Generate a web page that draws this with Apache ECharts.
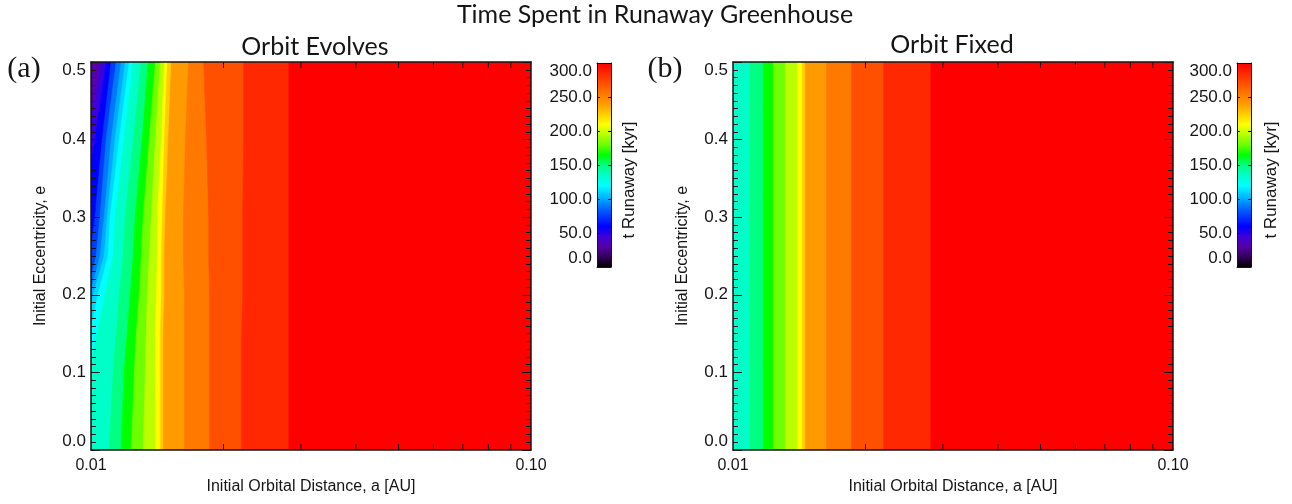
<!DOCTYPE html>
<html>
<head>
<meta charset="utf-8">
<title>Time Spent in Runaway Greenhouse</title>
<script src="https://cdn.jsdelivr.net/npm/echarts@6/dist/echarts.min.js"></script>
<style>
  html, body { margin: 0; padding: 0; background: #ffffff; }
  #chart { width: 1292px; height: 504px; }
</style>
</head>
<body>
<div id="chart"></div>
<script>
// ---- Data -------------------------------------------------------------
// Filled-contour band values of t_runaway [kyr]; band k starts where t reaches bandLevels[k]
const bandLevels = [30, 45, 60, 75, 90, 100, 110, 120, 135, 150, 165, 180, 195, 210, 225, 240, 255, 270, 285, 300];
// Eccentricity rows at which the contour positions are tabulated
const eccNodes = [0.0, 0.1, 0.15, 0.2, 0.25, 0.3, 0.4, 0.5];
// Orbit evolves: semi-major axis [AU] where t_runaway reaches bandLevels[1..] at each eccentricity
const edgesE000 = [0.00790, 0.00819, 0.00872, 0.00881, 0.00886, 0.00891, 0.00900, 0.00924, 0.01099, 0.01171, 0.01234, 0.01314, 0.01400, 0.01437, 0.01460, 0.01631, 0.01860, 0.02200, 0.02816];
const edgesE010 = [0.00832, 0.00863, 0.00919, 0.00929, 0.00934, 0.00939, 0.00959, 0.00990, 0.01123, 0.01189, 0.01254, 0.01328, 0.01400, 0.01437, 0.01460, 0.01631, 0.01860, 0.02200, 0.02816];
const edgesE015 = [0.00854, 0.00886, 0.00939, 0.00954, 0.00964, 0.00974, 0.00995, 0.01032, 0.01140, 0.01208, 0.01267, 0.01335, 0.01400, 0.01437, 0.01460, 0.01631, 0.01860, 0.02200, 0.02816];
const edgesE020 = [0.00877, 0.00910, 0.00959, 0.00979, 0.00995, 0.01011, 0.01037, 0.01076, 0.01159, 0.01228, 0.01287, 0.01342, 0.01407, 0.01445, 0.01468, 0.01631, 0.01860, 0.02212, 0.02816];
const edgesE025 = [0.00910, 0.00939, 0.00995, 0.01027, 0.01048, 0.01071, 0.01093, 0.01123, 0.01183, 0.01247, 0.01301, 0.01356, 0.01415, 0.01445, 0.01468, 0.01622, 0.01851, 0.02212, 0.02816];
const edgesE030 = [0.00934, 0.00959, 0.01021, 0.01048, 0.01071, 0.01088, 0.01105, 0.01134, 0.01196, 0.01260, 0.01314, 0.01371, 0.01415, 0.01452, 0.01476, 0.01622, 0.01851, 0.02212, 0.02816];
const edgesE040 = [0.00984, 0.01021, 0.01060, 0.01082, 0.01111, 0.01134, 0.01159, 0.01189, 0.01247, 0.01307, 0.01356, 0.01400, 0.01445, 0.01468, 0.01499, 0.01639, 0.01831, 0.02223, 0.02816];
const edgesE050 = [0.01054, 0.01082, 0.01111, 0.01140, 0.01171, 0.01196, 0.01221, 0.01247, 0.01301, 0.01349, 0.01400, 0.01437, 0.01468, 0.01491, 0.01523, 0.01666, 0.01803, 0.02223, 0.02816];
// Orbit fixed: t_runaway does not depend on e
const fixedLevels = [135, 150, 165, 180, 195, 210, 225, 240, 255, 270, 285, 300];
const fixedEdges = [0.01093, 0.01171, 0.01234, 0.01314, 0.01400, 0.01437, 0.01460, 0.01631, 0.01860, 0.02200, 0.02816];

// Axis ranges and tick values
const aRange = [0.01, 0.1];
const eRange = [0.0, 0.5];
const tRange = [0, 300];
const aMinorTicks = [0.02, 0.03, 0.04, 0.05, 0.06, 0.07, 0.08, 0.09];
const eTickStep = 0.1;
const tTickStep = 50;

// ---- Colour table (IDL-style rainbow) ----------------------------------
const rainbow = [
  [0, '#000000'], [15, '#32005a'], [30, '#5500a8'], [45, '#3c00dc'], [60, '#0000ff'],
  [75, '#003cff'], [90, '#0078ff'], [100, '#00aaff'], [110, '#00d7ff'], [120, '#00ffff'],
  [135, '#00ffc8'], [150, '#00ff82'], [165, '#00ff00'], [180, '#6eff00'], [195, '#b9ff00'],
  [210, '#ffff00'], [225, '#ffcd00'], [240, '#ff9b00'], [255, '#ff7800'], [270, '#ff5000'],
  [285, '#ff2800'], [300, '#ff0000']
];
function hexToRgb(h) {
  return [parseInt(h.slice(1, 3), 16), parseInt(h.slice(3, 5), 16), parseInt(h.slice(5, 7), 16)];
}
function colorAt(v) {
  if (v <= rainbow[0][0]) return rainbow[0][1];
  for (let i = 1; i < rainbow.length; i++) {
    if (v <= rainbow[i][0]) {
      const [v0, c0] = rainbow[i - 1];
      const [v1, c1] = rainbow[i];
      const f = (v - v0) / (v1 - v0);
      const a = hexToRgb(c0), b = hexToRgb(c1);
      const m = a.map((x, j) => Math.round(x + (b[j] - x) * f));
      return 'rgb(' + m.join(',') + ')';
    }
  }
  return rainbow[rainbow.length - 1][1];
}

// ---- Styling -----------------------------------------------------------
const SANS = '"Liberation Sans", Arimo, Helvetica, Arial, sans-serif';
const TITLE_FONT = 'Lato, "Open Sans", sans-serif';
const SERIF = '"Liberation Serif", "DejaVu Serif", serif';
const INK = '#151515';
const frameLine = { show: true, onZero: false, lineStyle: { color: INK, width: 1.5 } };
const TICK_LEN = 6;

const plotGrids = [
  { left: 91, top: 62, width: 440, height: 388 },
  { left: 733, top: 62, width: 440, height: 388 }
];
const barGrids = [
  { left: 597, top: 63, width: 14, height: 204 },
  { left: 1237, top: 63, width: 14, height: 204 }
];

const grids = [plotGrids[0], barGrids[0], plotGrids[1], barGrids[1]];
const xAxes = [];
const yAxes = [];

function addPlotAxes(gridIndex) {
  ['bottom', 'top'].forEach(pos => {
    const main = pos === 'bottom';
    xAxes.push({
      type: 'log', logBase: 10, gridIndex, position: pos, min: aRange[0], max: aRange[1], z: 5,
      axisLine: frameLine, splitLine: { show: false },
      axisTick: { show: false },
      axisLabel: main ? { show: true, formatter: v => v.toFixed(2), fontSize: 16, fontFamily: SANS, color: INK, margin: 8 } : { show: false },
      name: main ? 'Initial Orbital Distance, a [AU]' : '',
      nameLocation: 'middle', nameGap: 29,
      nameTextStyle: { fontSize: 16, fontFamily: SANS, color: INK }
    });
  });
  ['left', 'right'].forEach(pos => {
    const main = pos === 'left';
    yAxes.push({
      type: 'value', gridIndex, position: pos, min: eRange[0], max: eRange[1], interval: eTickStep, z: 5,
      axisLine: frameLine, splitLine: { show: false },
      axisTick: { show: true, inside: true, length: 9, lineStyle: { color: INK, width: 1 } },
      minorTick: { show: true, splitNumber: 10, length: 5, lineStyle: { color: INK, width: 1 } },
      axisLabel: main ? {
        show: true, formatter: v => v.toFixed(1), fontSize: 17, fontFamily: SANS, color: INK, margin: 5,
        verticalAlignMinLabel: 'bottom', verticalAlignMaxLabel: 'top'
      } : { show: false },
      name: main ? 'Initial Eccentricity, e' : '',
      nameLocation: 'middle', nameGap: 42, nameRotate: 90,
      nameTextStyle: { fontSize: 16, fontFamily: SANS, color: INK }
    });
  });
}

function addBarAxes(gridIndex) {
  ['bottom', 'top'].forEach(pos => {
    xAxes.push({
      type: 'value', gridIndex, position: pos, min: 0, max: 1, z: 5,
      axisLine: { show: true, onZero: false, lineStyle: { color: INK, width: 1 } },
      axisTick: { show: false }, axisLabel: { show: false }, splitLine: { show: false }
    });
  });
  ['left', 'right'].forEach(pos => {
    const main = pos === 'left';
    yAxes.push({
      type: 'value', gridIndex, position: pos, min: tRange[0], max: tRange[1], interval: tTickStep, z: 5,
      axisLine: { show: true, onZero: false, lineStyle: { color: INK, width: 1 } },
      axisTick: { show: true, inside: true, length: 3, lineStyle: { color: INK, width: 1 } },
      splitLine: { show: false },
      axisLabel: main ? {
        show: true, formatter: v => v.toFixed(1), fontSize: 17, fontFamily: SANS, color: INK, margin: 5,
        verticalAlignMinLabel: 'bottom', verticalAlignMaxLabel: 'top'
      } : { show: false }
    });
  });
}

addPlotAxes(0);
addBarAxes(1);
addPlotAxes(2);
addBarAxes(3);
// axis index layout: grid g -> xAxis 2g (bottom), 2g+1 (top); yAxis 2g (left), 2g+1 (right)

// ---- Renderers ---------------------------------------------------------
const evolvingEdges = [edgesE000, edgesE010, edgesE015, edgesE020, edgesE025, edgesE030, edgesE040, edgesE050];

// each band is filled from its lower contour to the right edge; later bands paint over earlier ones
function renderEvolvingBand(params, api) {
  const k = api.value(2);
  const pts = [];
  eccNodes.forEach((e, i) => {
    const a = k === 0 ? aRange[0] : evolvingEdges[i][k - 1];
    pts.push(api.coord([a, e]));
  });
  for (let i = eccNodes.length - 1; i >= 0; i--) {
    pts.push(api.coord([aRange[1], eccNodes[i]]));
  }
  return {
    type: 'polygon',
    shape: { points: pts, smooth: 0 },
    style: { fill: colorAt(bandLevels[k]), stroke: colorAt(bandLevels[k]), lineWidth: 0.5 }
  };
}

function renderFixedBand(params, api) {
  const k = api.value(2);
  const a0 = k === 0 ? aRange[0] : fixedEdges[k - 1];
  const p0 = api.coord([a0, eRange[1]]);
  const p1 = api.coord([aRange[1], eRange[0]]);
  return {
    type: 'rect',
    shape: { x: p0[0], y: p0[1], width: p1[0] - p0[0], height: p1[1] - p0[1] },
    style: { fill: colorAt(fixedLevels[k]), stroke: colorAt(fixedLevels[k]), lineWidth: 0.5 }
  };
}

function renderColorBar(params, api) {
  const p0 = api.coord([0, tRange[1]]);
  const p1 = api.coord([1, tRange[0]]);
  const stops = rainbow.map(([v, c]) => ({ offset: (v - tRange[0]) / (tRange[1] - tRange[0]), color: c }));
  return {
    type: 'rect',
    shape: { x: p0[0], y: p0[1], width: p1[0] - p0[0], height: p1[1] - p0[1] },
    style: { fill: { type: 'linear', x: 0, y: 1, x2: 0, y2: 0, colorStops: stops } }
  };
}

// log-axis minor ticks (2..9 x 0.01 AU), drawn inward on both the bottom and top frame
function renderLogTicks(params, api) {
  const a = api.value(0);
  const pb = api.coord([a, eRange[0]]);
  const pt = api.coord([a, eRange[1]]);
  const st = { stroke: INK, lineWidth: 1 };
  return {
    type: 'group',
    children: [
      { type: 'line', shape: { x1: pb[0], y1: pb[1], x2: pb[0], y2: pb[1] - TICK_LEN }, style: st },
      { type: 'line', shape: { x1: pt[0], y1: pt[1], x2: pt[0], y2: pt[1] + TICK_LEN }, style: st }
    ]
  };
}

const evolvingData = bandLevels.map((lv, k) => [k === 0 ? aRange[0] : edgesE000[k - 1], eRange[0], k]);
const fixedData = fixedLevels.map((lv, k) => [k === 0 ? aRange[0] : fixedEdges[k - 1], eRange[0], k]);
const tickData = aMinorTicks.map(a => [a, eRange[0]]);

const series = [
  { type: 'custom', name: 'Orbit Evolves', xAxisIndex: 0, yAxisIndex: 0, clip: true, silent: true,
    renderItem: renderEvolvingBand, data: evolvingData, encode: { x: 0, y: 1 } },
  { type: 'custom', name: 'ticks a', xAxisIndex: 0, yAxisIndex: 0, silent: true, z: 6,
    renderItem: renderLogTicks, data: tickData, encode: { x: 0, y: 1 } },
  { type: 'custom', name: 'colorbar a', xAxisIndex: 2, yAxisIndex: 2, clip: true, silent: true,
    renderItem: renderColorBar, data: [[0, tRange[0]]], encode: { x: 0, y: 1 } },
  { type: 'custom', name: 'Orbit Fixed', xAxisIndex: 4, yAxisIndex: 4, clip: true, silent: true,
    renderItem: renderFixedBand, data: fixedData, encode: { x: 0, y: 1 } },
  { type: 'custom', name: 'ticks b', xAxisIndex: 4, yAxisIndex: 4, silent: true, z: 6,
    renderItem: renderLogTicks, data: tickData, encode: { x: 0, y: 1 } },
  { type: 'custom', name: 'colorbar b', xAxisIndex: 6, yAxisIndex: 6, clip: true, silent: true,
    renderItem: renderColorBar, data: [[0, tRange[0]]], encode: { x: 0, y: 1 } }
];

// ---- Text --------------------------------------------------------------
function label(text, x, y, size, family, rotation) {
  return {
    type: 'text', x, y, rotation: rotation || 0, z: 10,
    style: { text, fontSize: size, fontFamily: family, fill: INK, align: 'center', verticalAlign: 'middle' }
  };
}
const graphic = [
  label('Time Spent in Runaway Greenhouse', 655, 15, 25, TITLE_FONT),
  label('Orbit Evolves', 315, 47, 25, TITLE_FONT),
  label('Orbit Fixed', 952, 45, 25, TITLE_FONT),
  label('(a)', 24, 69, 30, SERIF),
  label('(b)', 665, 69, 30, SERIF),
  label('t Runaway [kyr]', 629, 180, 17, SANS, Math.PI / 2),
  label('t Runaway [kyr]', 1271, 180, 17, SANS, Math.PI / 2)
];

const chart = echarts.init(document.getElementById('chart'), null, { renderer: 'canvas' });
chart.setOption({
  backgroundColor: '#ffffff',
  animation: false,
  grid: grids,
  xAxis: xAxes,
  yAxis: yAxes,
  series,
  graphic
});
</script>
</body>
</html>
